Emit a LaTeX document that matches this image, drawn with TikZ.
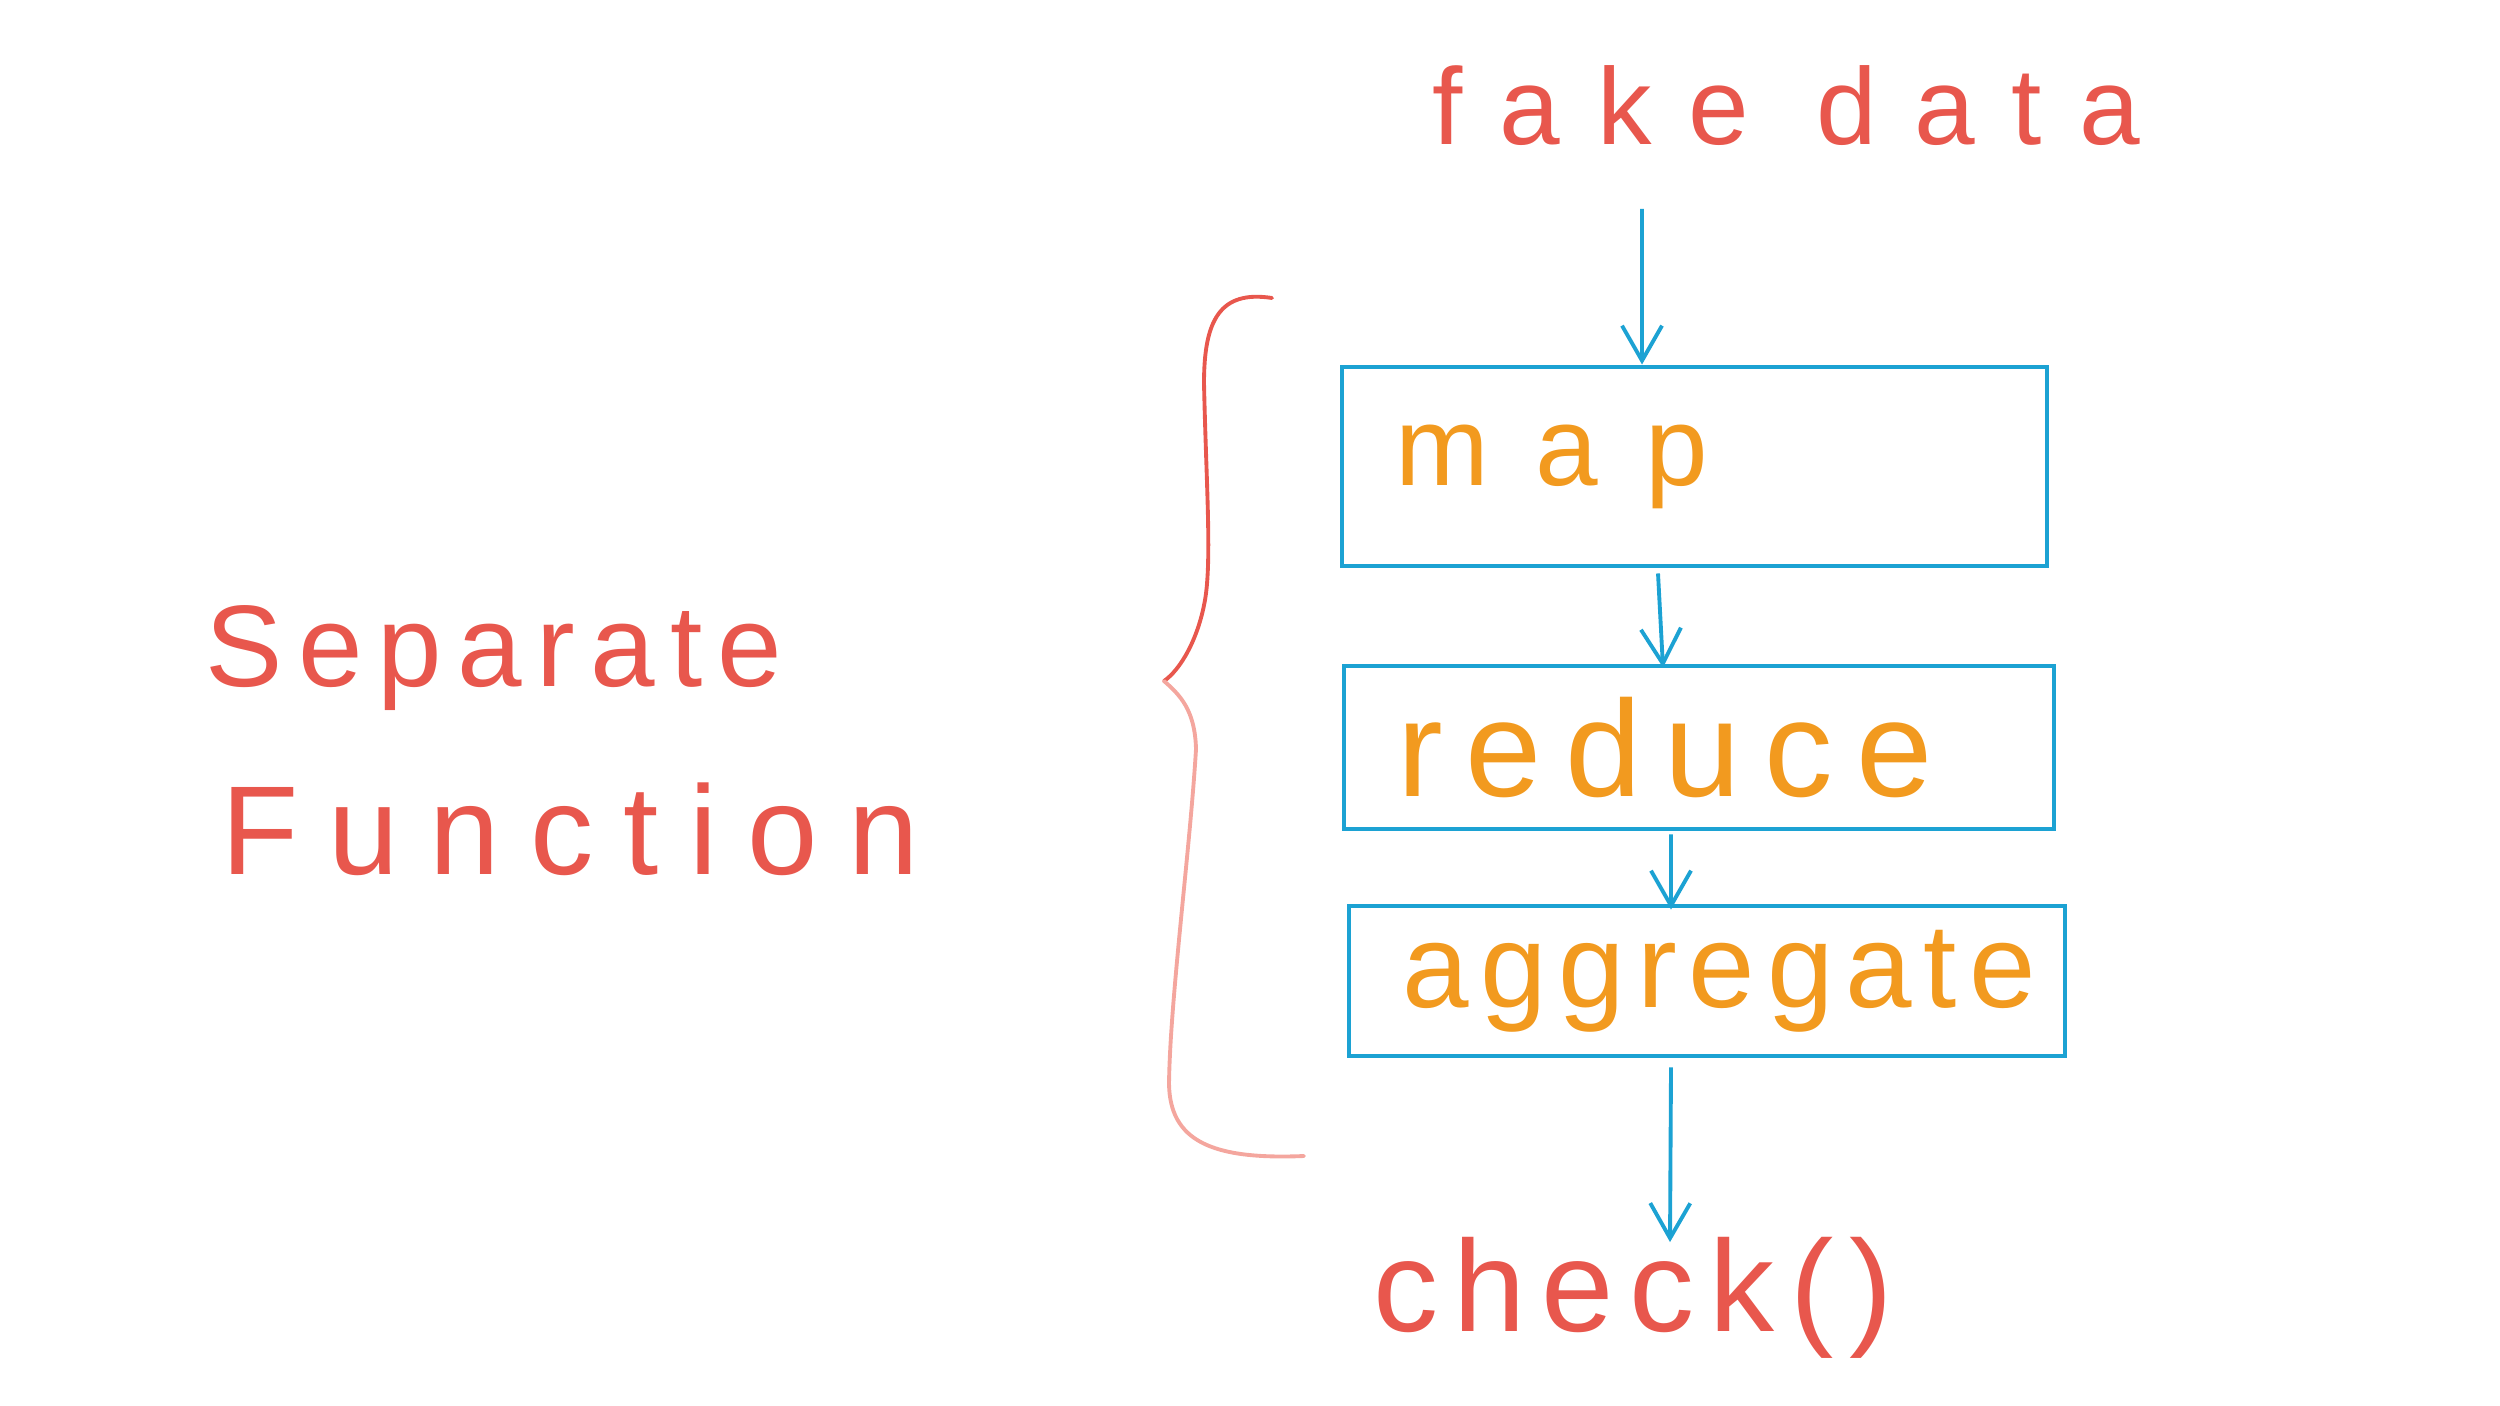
\documentclass[tikz,border=0pt]{standalone}
\usepackage{fontspec}
\usepackage{tikz}
\usetikzlibrary{arrows.meta}
\newfontfamily\handfont{Liberation Sans}
\definecolor{penred}{HTML}{E8574D}
\definecolor{penpink}{HTML}{F4A69E}
\definecolor{penblue}{HTML}{1CA2D3}
\definecolor{penorange}{HTML}{F29A1F}

\begin{document}
\begin{tikzpicture}
[stage/.style={draw=penblue, line width=1.4pt, text=penorange, inner xsep=5.3mm, align=left},
flow/.style={penblue, line width=1.1pt, -{Straight Barb[length=3.5mm,width=4mm]}},
note/.style={penred, inner sep=0pt, anchor=base},
brace/.style={line width=1.1pt, line cap=round}]
\useasboundingbox (0,0) rectangle (25,-14.06);
\node[note, font=\handfont\fontsize{31}{36}\selectfont\addfontfeature{LetterSpace=34}] (fake) at (17.86,-1.45) {fake data};
\node[stage, minimum width=7.05cm, minimum height=1.99cm, text width=5.99cm,
  font=\handfont\fontsize{32}{37}\selectfont\addfontfeature{LetterSpace=42}] (map) at (16.945,-4.665) {map};
\node[stage, minimum width=7.10cm, minimum height=1.63cm, text width=6.04cm,
  font=\handfont\fontsize{39}{44}\selectfont\addfontfeature{LetterSpace=17}] (reduce) at (16.99,-7.475) {reduce};
\node[stage, minimum width=7.16cm, minimum height=1.50cm, text width=6.10cm,
  font=\handfont\fontsize{34}{39}\selectfont\addfontfeature{LetterSpace=10}] (aggregate) at (17.07,-9.81) {aggregate};
\node[note, font=\handfont\fontsize{37}{42}\selectfont\addfontfeature{LetterSpace=12}] (check) at (16.33,-13.31) {check()};
\node[note, font=\handfont\fontsize{33}{38}\selectfont\addfontfeature{LetterSpace=13}] (separate) at (4.94,-6.86) {Separate};
\node[note, font=\handfont\fontsize{36}{41}\selectfont\addfontfeature{LetterSpace=24}] (function) at (5.70,-8.74) {Function};
% arrows down the pipeline
\draw[flow] ([xshift=-14.4mm,yshift=-6.2mm]fake.south) -- ([xshift=-5.25mm]map.north);
\draw[flow] ([xshift=-3.65mm,yshift=-0.5mm]map.south) -- ([xshift=-3.6mm,yshift=-0.4mm]reduce.north);
\draw[flow] ([xshift=-2.8mm,yshift=-0.3mm]reduce.south) -- ([xshift=-3.6mm,yshift=-0.6mm]aggregate.north);
\draw[flow] ([xshift=-3.6mm,yshift=-0.9mm]aggregate.south) -- ([xshift=3.7mm,yshift=-0.6mm]check.north);
% the brace
\draw[brace, penred] (12.72,-2.98) .. controls (12.2,-2.9) and (12.04,-3.2) .. (12.04,-3.83)
  .. controls (12.06,-4.8) and (12.12,-5.6) .. (12.05,-6.0)
  .. controls (11.98,-6.4) and (11.8,-6.7) .. (11.64,-6.81);
\draw[brace, penpink] (11.64,-6.81) .. controls (11.8,-6.95) and (11.95,-7.1) .. (11.96,-7.49)
  .. controls (11.9,-8.5) and (11.7,-10.0) .. (11.69,-10.84)
  .. controls (11.7,-11.4) and (12.1,-11.6) .. (13.04,-11.56);
\end{tikzpicture}
\end{document}
